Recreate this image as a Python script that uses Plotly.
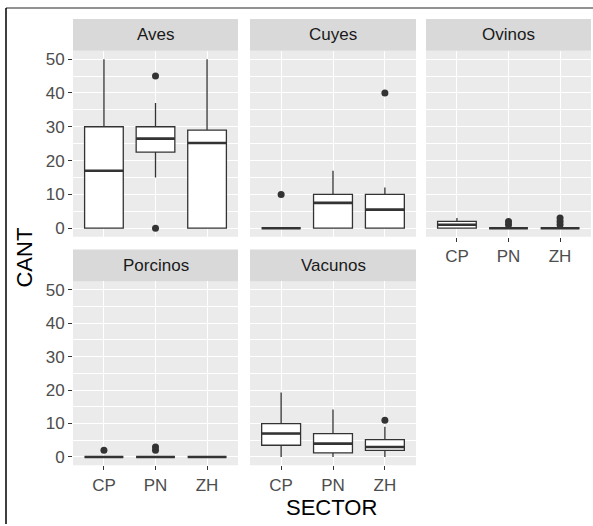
import plotly.graph_objects as go

W, H = 593, 526

sectors = ["CP", "PN", "ZH"]
especies = ["Aves", "Cuyes", "Ovinos", "Porcinos", "Vacunos"]

# box statistics per species, order CP, PN, ZH
lower = {"Aves": [0, 15, 0], "Cuyes": [0, 0, 0], "Ovinos": [0, 0, 0],
         "Porcinos": [0, 0, 0], "Vacunos": [0, 0, 0]}
q1 = {"Aves": [0, 22.5, 0], "Cuyes": [0, 0, 0], "Ovinos": [0, 0, 0],
      "Porcinos": [0, 0, 0], "Vacunos": [3.5, 1.2, 2]}
median = {"Aves": [17, 26.5, 25.2], "Cuyes": [0, 7.5, 5.5], "Ovinos": [1, 0, 0],
          "Porcinos": [0, 0, 0], "Vacunos": [7, 4, 3]}
q3 = {"Aves": [30, 30, 29], "Cuyes": [0, 10, 10], "Ovinos": [2, 0, 0],
      "Porcinos": [0, 0, 0], "Vacunos": [10, 7, 5.2]}
upper = {"Aves": [50, 37, 50], "Cuyes": [0, 17, 12], "Ovinos": [3, 0, 0],
         "Porcinos": [0, 0, 0], "Vacunos": [19.3, 14.2, 9]}
# outliers: sector and value
out_sector = {"Aves": ["PN", "PN"], "Cuyes": ["CP", "ZH"], "Ovinos": ["PN", "PN", "ZH", "ZH", "ZH"],
              "Porcinos": ["CP", "PN", "PN"], "Vacunos": ["ZH"]}
out_value = {"Aves": [45, 0], "Cuyes": [10, 40], "Ovinos": [1, 2, 1, 2, 3],
             "Porcinos": [2, 2, 3], "Vacunos": [11]}

y_ticks = [0, 10, 20, 30, 40, 50]

# layout geometry (pixels)
cols = [(73, 238), (250, 416), (426, 591)]
rows = [(50, 237), (282, 467)]
strips = [(18, 50), (250, 282)]
pos = {"Aves": (0, 0), "Cuyes": (0, 1), "Ovinos": (0, 2), "Porcinos": (1, 0), "Vacunos": (1, 1)}
show_x = {"Aves": False, "Cuyes": False, "Ovinos": True, "Porcinos": True, "Vacunos": True}

def px_x(v):
    return v / W

def px_y(v):
    return 1 - v / H

fig = go.Figure()
layout = {}
shapes = []
annotations = []

LINE = "#333333"
FONT = "Liberation Sans, Arial"
TICKFONT = dict(family=FONT, size=17, color="#4D4D4D")

for k, sp in enumerate(especies):
    r, c = pos[sp]
    idx = k + 1
    xa = "x" if idx == 1 else f"x{idx}"
    ya = "y" if idx == 1 else f"y{idx}"
    xs = [1, 2, 3]
    fig.add_trace(go.Box(
        x=xs, q1=q1[sp], median=median[sp], q3=q3[sp],
        lowerfence=lower[sp], upperfence=upper[sp],
        width=0.75, whiskerwidth=0, fillcolor="white",
        line=dict(color=LINE, width=1.3), boxpoints=False,
        xaxis=xa, yaxis=ya, showlegend=False, hoverinfo="skip"))
    # thick median segments
    mx, my = [], []
    for i, m in enumerate(median[sp]):
        mx += [xs[i] - 0.375, xs[i] + 0.375, None]
        my += [m, m, None]
    fig.add_trace(go.Scatter(x=mx, y=my, mode="lines",
                             line=dict(color=LINE, width=2.6),
                             xaxis=xa, yaxis=ya, showlegend=False, hoverinfo="skip"))
    if out_value[sp]:
        ox = [sectors.index(s) + 1 for s in out_sector[sp]]
        fig.add_trace(go.Scatter(x=ox, y=out_value[sp], mode="markers",
                                 marker=dict(color=LINE, size=7),
                                 xaxis=xa, yaxis=ya, showlegend=False, hoverinfo="skip"))

    x0, x1 = cols[c]
    y0, y1 = rows[r]
    xkey = "xaxis" if idx == 1 else f"xaxis{idx}"
    ykey = "yaxis" if idx == 1 else f"yaxis{idx}"
    layout[xkey] = dict(
        domain=[px_x(x0), px_x(x1)], anchor=ya, range=[0.4, 3.6],
        tickvals=[1, 2, 3], ticktext=sectors if show_x[sp] else ["", "", ""],
        showticklabels=show_x[sp],
        ticks="outside" if show_x[sp] else "", ticklen=4, tickcolor=LINE, tickwidth=1,
        showgrid=True, gridcolor="white", gridwidth=1.4,
        zeroline=False, showline=False, tickfont=TICKFONT, fixedrange=True)
    layout[ykey] = dict(
        domain=[px_y(y1), px_y(y0)], anchor=xa, range=[-2.5, 52.5],
        tickvals=y_ticks, showticklabels=(c == 0),
        ticks="outside" if c == 0 else "", ticklen=4, tickcolor=LINE, tickwidth=1,
        showgrid=True, gridcolor="white", gridwidth=1.4,
        minor=dict(dtick=5, tick0=5, showgrid=True, gridcolor="white", gridwidth=0.6, ticks=""),
        zeroline=False, showline=False, tickfont=TICKFONT, fixedrange=True)
    # panel background
    shapes.append(dict(type="rect", xref="paper", yref="paper",
                       x0=px_x(x0), x1=px_x(x1), y0=px_y(y1), y1=px_y(y0),
                       fillcolor="#EBEBEB", line=dict(width=0), layer="below"))
    # strip
    s0, s1 = strips[r]
    shapes.append(dict(type="rect", xref="paper", yref="paper",
                       x0=px_x(x0), x1=px_x(x1), y0=px_y(s1), y1=px_y(s0),
                       fillcolor="#D9D9D9", line=dict(width=0), layer="below"))
    annotations.append(dict(text=sp, xref="paper", yref="paper",
                            x=px_x((x0 + x1) / 2), y=px_y((s0 + s1) / 2),
                            showarrow=False, xanchor="center", yanchor="middle",
                            font=dict(family=FONT, size=17, color="#1A1A1A")))

# axis titles
annotations.append(dict(text="SECTOR", xref="paper", yref="paper",
                        x=px_x(332), y=px_y(509), showarrow=False,
                        xanchor="center", yanchor="middle",
                        font=dict(family=FONT, size=22, color="black")))
annotations.append(dict(text="CANT", xref="paper", yref="paper",
                        x=px_x(25), y=px_y(258), showarrow=False, textangle=-90,
                        xanchor="center", yanchor="middle",
                        font=dict(family=FONT, size=22, color="black")))

# outer frame lines (top and left)
shapes.append(dict(type="line", xref="paper", yref="paper",
                   x0=px_x(6), x1=1, y0=px_y(7), y1=px_y(7),
                   line=dict(color="#6E6E6E", width=1.5)))
shapes.append(dict(type="line", xref="paper", yref="paper",
                   x0=px_x(6), x1=px_x(6), y0=px_y(7), y1=0,
                   line=dict(color="black", width=1.5)))

fig.update_layout(
    width=W, height=H, margin=dict(l=0, r=0, t=0, b=0),
    paper_bgcolor="white", plot_bgcolor="rgba(0,0,0,0)",
    shapes=shapes, annotations=annotations, showlegend=False,
    **layout)

fig.write_html("out.html", config={"displayModeBar": False})
